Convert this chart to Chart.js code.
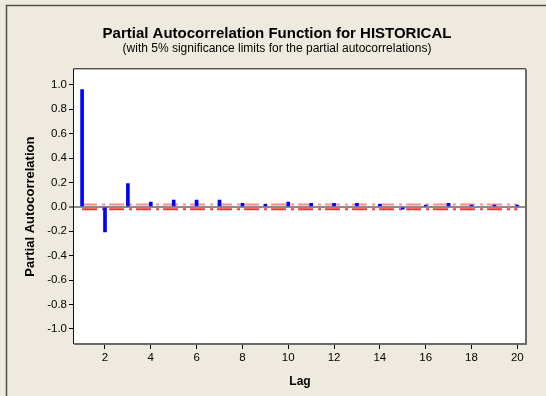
<!DOCTYPE html>
<html><head><meta charset="utf-8">
<script src="https://cdn.jsdelivr.net/npm/chart.js@4.4.1/dist/chart.umd.min.js"></script>
<style>html,body{margin:0;padding:0;background:#EEEAE0;overflow:hidden;}canvas{display:block;}</style>
</head><body>
<canvas id="c" width="546" height="396"></canvas>
<script>
// ---- data ----
const lags = [1,2,3,4,5,6,7,8,9,10,11,12,13,14,15,16,17,18,19,20];
const pacf = [0.962,-0.205,0.192,0.039,0.055,0.055,0.055,0.030,0.022,0.039,0.030,0.030,0.030,0.022,-0.018,0.014,0.030,0.014,0.014,0.014];
const upperLimit = 0.019;
const lowerLimit = -0.020;
const xTickValues = [2,4,6,8,10,12,14,16,18,20];
const yTickValues = [-1.0,-0.8,-0.6,-0.4,-0.2,0.0,0.2,0.4,0.6,0.8,1.0];
const titleText = 'Partial Autocorrelation Function for HISTORICAL';
const subtitleText = '(with 5% significance limits for the partial autocorrelations)';
const xTitle = 'Lag';
const yTitle = 'Partial Autocorrelation';

const FONT = "'Liberation Sans', Arial, sans-serif";

const framePlugin = {
  id: 'frame',
  beforeDraw(chart) {
    const ctx = chart.ctx, a = chart.chartArea;
    ctx.save();
    ctx.fillStyle = '#EEEAE0';
    ctx.fillRect(0, 0, chart.width, chart.height);
    ctx.strokeStyle = '#505050';
    ctx.lineWidth = 1.5;
    ctx.beginPath();
    ctx.moveTo(6.5, chart.height);
    ctx.lineTo(6.5, 5.5);
    ctx.lineTo(chart.width, 5.5);
    ctx.stroke();
    ctx.fillStyle = '#FFFFFF';
    ctx.fillRect(a.left, a.top, a.right - a.left, a.bottom - a.top);
    ctx.restore();
  },
  afterDraw(chart) {
    const ctx = chart.ctx, a = chart.chartArea;
    ctx.save();
    ctx.strokeStyle = '#6a6a6a';
    ctx.lineWidth = 2;
    ctx.beginPath();
    ctx.moveTo(a.right, a.top);
    ctx.lineTo(a.right, a.bottom);
    ctx.lineTo(a.left, a.bottom);
    ctx.stroke();
    ctx.strokeStyle = '#111';
    ctx.lineWidth = 1;
    ctx.beginPath();
    ctx.moveTo(a.left - 0.5, a.bottom);
    ctx.lineTo(a.left - 0.5, a.top - 0.5);
    ctx.lineTo(a.right, a.top - 0.5);
    ctx.stroke();
    ctx.restore();
  }
};

new Chart(document.getElementById('c'), {
  type: 'bar',
  data: {
    datasets: [
      {
        type: 'bar',
        data: lags.map((l, i) => ({x: l, y: pacf[i]})),
        backgroundColor: '#0000FF',
        borderWidth: 0,
        barThickness: 3,
        order: 0
      },
      {
        type: 'line',
        data: lags.map(l => ({x: l, y: upperLimit})),
        borderColor: 'rgba(255,60,60,0.6)',
        borderWidth: 2,
        borderDash: [15, 5, 3, 4],
        pointRadius: 0,
        fill: false,
        order: 1
      },
      {
        type: 'line',
        data: lags.map(l => ({x: l, y: lowerLimit})),
        borderColor: '#FF3030',
        borderWidth: 2,
        borderDash: [15, 5, 3, 4],
        pointRadius: 0,
        fill: false,
        order: 1
      }
    ]
  },
  options: {
    responsive: false,
    animation: false,
    devicePixelRatio: 1,
    layout: {padding: {left: 20, right: 12, top: 0, bottom: 0}},
    plugins: {
      legend: {display: false},
      tooltip: {enabled: false},
      title: {
        display: true, text: titleText, color: '#000',
        font: {family: FONT, size: 15, weight: 'bold', lineHeight: 1.0},
        padding: {top: 26.2, bottom: 0}
      },
      subtitle: {
        display: true, text: subtitleText, color: '#000',
        font: {family: FONT, size: 12, weight: 'normal', lineHeight: 1.0},
        padding: {top: 1.6, bottom: 14.5}
      }
    },
    scales: {
      x: {
        type: 'linear',
        offset: false,
        min: 0.647, max: 20.38,
        afterBuildTicks: s => { s.ticks = xTickValues.map(v => ({value: v})); },
        afterFit: s => { s.height = 396 - 344; },
        ticks: {
          color: '#000', padding: 2, maxRotation: 0, autoSkip: false,
          font: {family: FONT, size: 11.5},
          callback: v => String(v)
        },
        grid: {display: true, offset: false, drawOnChartArea: false, drawTicks: true, tickLength: 5, tickColor: '#000', tickWidth: 1},
        border: {display: false},
        title: {display: true, text: xTitle, color: '#000', font: {family: FONT, size: 12, weight: 'bold', lineHeight: 1.2}, padding: {top: 0, bottom: 7.3}}
      },
      y: {
        type: 'linear',
        position: 'left',
        min: -1.124, max: 1.128,
        afterBuildTicks: s => { s.ticks = yTickValues.map(v => ({value: v})); },
        afterFit: s => { s.width = 74 - 20; },
        ticks: {
          color: '#000', padding: 2, autoSkip: false,
          font: {family: FONT, size: 11.5},
          callback: v => Number(v).toFixed(1)
        },
        grid: {
          display: true, drawOnChartArea: true, drawTicks: true, tickLength: 5,
          tickColor: '#000', tickWidth: 1,
          color: c => (c.tick && Math.abs(c.tick.value) < 1e-9) ? '#8c8c8c' : 'rgba(0,0,0,0)',
          lineWidth: c => (c.tick && Math.abs(c.tick.value) < 1e-9) ? 2 : 1
        },
        border: {display: false},
        title: {display: true, text: yTitle, color: '#000', font: {family: FONT, size: 13, weight: 'bold', lineHeight: 1.2}, padding: {top: 2.2, bottom: 0}}
      },
      y2: {
        type: 'linear',
        position: 'right',
        display: true,
        afterFit: s => { s.width = 8; },
        ticks: {display: false},
        grid: {display: false},
        border: {display: false}
      }
    }
  },
  plugins: [framePlugin]
});
</script>
</body></html>
